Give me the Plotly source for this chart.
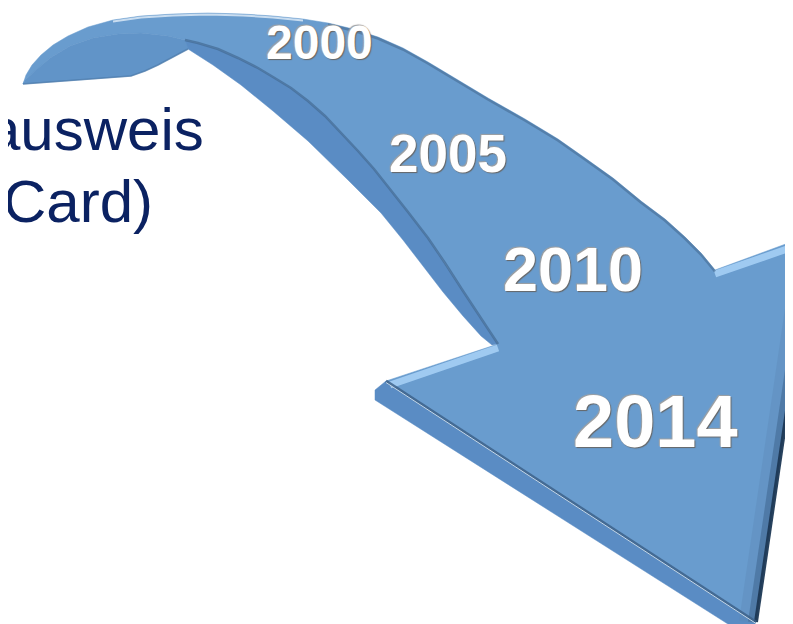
import plotly.graph_objects as go

# ---- outline data of the curved arrow (pixel space of the 793x624 slide) ----
top_edge_x = [15, 18, 24, 33, 45, 60, 80, 105, 133, 165, 200, 235, 265, 295, 320, 345, 370,
              395, 420, 450, 480, 517, 550, 577, 605, 633, 657, 677, 693, 707]
top_edge_y = [76, 67, 57, 47, 37, 28, 19, 12, 8, 6, 5, 6, 8, 11, 15, 21, 29,
              40, 54, 72, 90, 111, 131, 150, 170, 193, 211, 229, 245, 262]

head_x = [707, 805, 748, 378, 490]
head_y = [262, 226, 614, 373, 336]

front_low_x = [490, 470, 455, 437, 420, 400, 383, 366, 350, 333, 317, 300, 283, 265, 250, 230, 210, 190, 177]
front_low_y = [336, 306, 283, 255, 230, 204, 182, 161, 143, 125, 108, 93, 80, 69, 60, 50, 41, 35, 32]

curl_in_x = [177, 160, 133, 110, 85, 62, 42, 28, 17, 15]
curl_in_y = [32, 28, 25, 26, 30, 38, 50, 62, 72, 76]

curl_low_x = [15, 70, 123, 137, 150, 165, 180]
curl_low_y = [76, 72, 68, 63, 57, 49, 41]

side_out_x = [170, 180, 205, 233, 265, 300, 340, 373, 395, 415, 435, 455, 473, 484]
side_out_y = [34, 41, 57, 77, 103, 133, 172, 205, 232, 258, 284, 308, 328, 337]

head_side_x = [378, 748, 746, 742, 367, 367, 378]
head_side_y = [373, 614, 619, 630, 392, 382, 373]

years = ["2000", "2005", "2010", "2014"]
year_x = [311, 440, 565, 647]
year_y = [34, 145, 261, 413]
year_size = [48, 53, 63, 74]

label_lines = ["ausweis", "Card)"]
label_x = [198, 147]
label_y = [121, 193]
label_size = 60

FACE = "#699cce"
SIDE = "#5a8cc4"
CURL = "#6194c8"

fig = go.Figure()


def poly(x, y, color):
    fig.add_trace(go.Scatter(x=x, y=y, mode="lines", fill="toself", fillcolor=color,
                             line=dict(color=color, width=0.5),
                             hoverinfo="skip", showlegend=False))


def line(x, y, color, w, op=1.0):
    fig.add_trace(go.Scatter(x=x, y=y, mode="lines", line=dict(color=color, width=w),
                             opacity=op, hoverinfo="skip", showlegend=False))


# side strips (darker, the thickness of the 3-D arrow)
poly(side_out_x + front_low_x, side_out_y + front_low_y, SIDE)
poly(head_side_x, head_side_y, SIDE)

# front face of the arrow
face_x = top_edge_x + head_x[1:] + front_low_x[1:] + curl_in_x[1:]
face_y = top_edge_y + head_y[1:] + front_low_y[1:] + curl_in_y[1:]
poly(face_x, face_y, FACE)

# underside of the curled tail
poly(curl_in_x[::-1] + curl_low_x[::-1], curl_in_y[::-1] + curl_low_y[::-1], CURL)
line(curl_low_x, curl_low_y, "#4a78a8", 1.5, 0.7)

# bevel effects
rx, ry = head_x[1:3], head_y[1:3]
line([x - 9 for x in rx], ry, "#5b87b5", 16, 0.35)
line([x - 4 for x in rx], ry, "#3f668f", 8, 0.55)
line(rx, ry, "#1d3855", 4, 0.95)
line([707, 805], [266, 232], "#a9d3f8", 7, 0.85)
line([382, 490], [377, 340], "#a9d3f8", 7, 0.85)
line([378, 748], [373, 614], "#3b5f86", 3, 0.8)
line([378, 748], [374.5, 615.5], "#d6e6f3", 1, 0.9)
line(front_low_x, front_low_y, "#456d97", 2.5, 0.75)
line(top_edge_x[14:], [y + 1.5 for y in top_edge_y[14:]], "#43698f", 2.5, 0.55)
line(top_edge_x[7:14], [y + 1.5 for y in top_edge_y[7:14]], "#eaf3fc", 2, 0.75)

annotations = []
for t, x, y, s in zip(years, year_x, year_y, year_size):
    annotations.append(dict(x=x, y=y, text=f"<b>{t}</b>", showarrow=False,
                            xanchor="center", yanchor="middle",
                            font=dict(family="Liberation Sans, Arial", size=s, color="#ffffff",
                                      shadow="1px 1px 1px #666666, -1px -1px 1px #a0a0a0")))
for t, x, y in zip(label_lines, label_x, label_y):
    annotations.append(dict(x=x, y=y, text=t, showarrow=False, xanchor="right", yanchor="middle",
                            font=dict(family="Liberation Sans, Arial", size=label_size,
                                      color="#0b2262")))

fig.update_layout(
    width=793, height=624, margin=dict(l=0, r=0, t=0, b=0),
    paper_bgcolor="white", plot_bgcolor="white",
    xaxis=dict(range=[0, 793], visible=False, fixedrange=True),
    yaxis=dict(range=[624, 0], visible=False, fixedrange=True),
    annotations=annotations,
)

fig.write_html("out.html")
